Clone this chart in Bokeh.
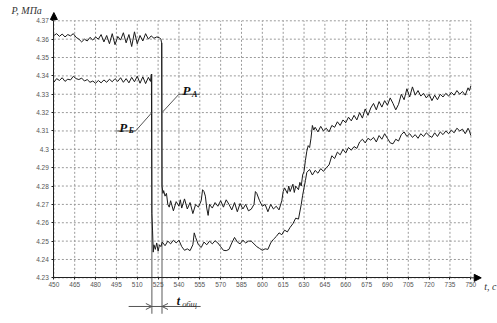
from bokeh.plotting import figure
from bokeh.models import (LinearAxis, FixedTicker, Arrow, NormalHead, OpenHead,
                          Label)
from bokeh.embed import file_html
from bokeh.resources import INLINE

# ---------------- data ----------------
xticks = [450, 465, 480, 495, 510, 525, 540, 555, 570, 585, 600, 615, 630, 645,
          660, 675, 690, 705, 720, 735, 750]
yticks = [4.23, 4.24, 4.25, 4.26, 4.27, 4.28, 4.29, 4.30, 4.31, 4.32, 4.33,
          4.34, 4.35, 4.36, 4.37]
ytick_labels = ["4.23", "4.24", "4.25", "4.26", "4.27", "4.28", "4.29", "4.3",
                "4.31", "4.32", "4.33", "4.34", "4.35", "4.36", "4.37"]

# P_A (upper before the drop)
t_a = [450, 452, 454, 456, 458, 460, 462, 464, 466, 468, 470, 472, 474, 476, 478,
       480, 482, 484, 486, 488, 490, 492, 494, 496, 498, 500, 502, 504, 506, 508,
       510, 512, 514, 516, 518, 520, 522, 524, 526, 527, 527.5, 527.8, 528.5,
       529, 530, 531, 532, 533, 534, 536, 538, 540, 541, 542, 544, 546, 548, 550,
       552, 554, 556, 557, 558, 559, 560, 561, 562, 564, 566, 568, 570, 572, 574,
       576, 578, 580, 582, 584, 586, 588, 590, 592, 594, 595, 596, 598, 600, 602,
       604, 606, 608, 610, 612, 614, 615, 616, 618, 619, 620, 622, 623, 624, 626,
       627, 628, 629, 630, 631, 632, 633, 634, 635, 636, 637, 638, 640, 642, 644,
       646, 648, 650, 652, 654, 656, 658, 660, 662, 664, 666, 668, 670, 672, 674,
       676, 678, 680, 682, 684, 686, 688, 690, 692, 694, 696, 698, 700, 702, 704,
       706, 708, 710, 712, 714, 716, 718, 720, 722, 724, 726, 728, 730, 732, 734,
       736, 738, 740, 742, 744, 746, 748, 749, 750]
p_a = [4.3620, 4.3630, 4.3615, 4.3628, 4.3612, 4.3625, 4.3618, 4.3630, 4.3610,
       4.3600, 4.3585, 4.3600, 4.3590, 4.3610, 4.3595, 4.3612, 4.3600, 4.3625,
       4.3585, 4.3620, 4.3575, 4.3630, 4.3570, 4.3615, 4.3595, 4.3635, 4.3580,
       4.3625, 4.3560, 4.3640, 4.3575, 4.3620, 4.3590, 4.3630, 4.3600, 4.3618,
       4.3605, 4.3612, 4.3608, 4.3600, 4.3580, 4.2800, 4.2760,
       4.2775, 4.2745, 4.2760, 4.2700, 4.2685, 4.2720, 4.2665, 4.2715, 4.2690,
       4.2725, 4.2680, 4.2730, 4.2675, 4.2710, 4.2650, 4.2700, 4.2685, 4.2720,
       4.2780, 4.2770, 4.2745, 4.2680, 4.2640, 4.2700, 4.2680, 4.2710, 4.2690,
       4.2720, 4.2685, 4.2725, 4.2700, 4.2670, 4.2710, 4.2660, 4.2705, 4.2675,
       4.2700, 4.2665, 4.2674, 4.2700, 4.2770, 4.2760, 4.2720, 4.2690, 4.2700,
       4.2660, 4.2700, 4.2675, 4.2690, 4.2670, 4.2720, 4.2770, 4.2790, 4.2760,
       4.2800, 4.2770, 4.2810, 4.2765, 4.2800, 4.2780, 4.2820, 4.2800, 4.2860,
       4.2880, 4.2940, 4.2990, 4.3020, 4.3010, 4.3060, 4.3130, 4.3105, 4.3120,
       4.3095, 4.3125, 4.3100, 4.3115, 4.3095, 4.3130, 4.3120, 4.3150, 4.3130,
       4.3160, 4.3145, 4.3175, 4.3155, 4.3185, 4.3160, 4.3200, 4.3170, 4.3220,
       4.3185, 4.3225, 4.3250, 4.3215, 4.3260, 4.3230, 4.3265, 4.3240, 4.3280,
       4.3250, 4.3215, 4.3245, 4.3300, 4.3270, 4.3330, 4.3285, 4.3340, 4.3295,
       4.3320, 4.3290, 4.3305, 4.3280, 4.3300, 4.3265, 4.3295, 4.3270, 4.3300,
       4.3285, 4.3305, 4.3290, 4.3310, 4.3295, 4.3320, 4.3300, 4.3315, 4.3295,
       4.3335, 4.3320, 4.3345]

# P_B (lower before the drop)
t_b = [450, 452, 454, 456, 458, 460, 462, 464, 466, 468, 470, 472, 474, 476, 478,
       480, 482, 484, 486, 488, 490, 492, 494, 496, 498, 500, 502, 504, 506, 508,
       510, 512, 514, 516, 518, 519.5, 520.2, 520.5, 521, 521.5, 522, 523, 524,
       525, 526, 527, 528, 530, 532, 534, 536, 538, 540, 542, 544, 546, 548, 550,
       551, 552, 554, 556, 558, 560, 562, 564, 566, 568, 570, 572, 574, 576, 578,
       580, 582, 584, 586, 588, 590, 592, 594, 596, 598, 600, 602, 604, 606, 608,
       610, 612, 614, 616, 618, 620, 622, 624, 626, 628, 629, 630, 631, 632, 634,
       636, 638, 640, 642, 644, 646, 648, 650, 652, 654, 656, 658, 660, 662, 664,
       666, 668, 670, 672, 674, 676, 678, 680, 682, 684, 686, 688, 690, 692, 694,
       696, 698, 700, 702, 704, 706, 708, 710, 712, 714, 716, 718, 720, 722, 724,
       726, 728, 730, 732, 734, 736, 738, 740, 742, 744, 746, 748, 749, 750]
p_b = [4.3365, 4.3385, 4.3375, 4.3390, 4.3370, 4.3382, 4.3378, 4.3398, 4.3385,
       4.3380, 4.3388, 4.3372, 4.3380, 4.3365, 4.3372, 4.3360, 4.3375, 4.3362,
       4.3378, 4.3365, 4.3382, 4.3368, 4.3385, 4.3370, 4.3390, 4.3365, 4.3385,
       4.3362, 4.3392, 4.3368, 4.3398, 4.3360, 4.3395, 4.3358, 4.3392, 4.3370,
       4.3410, 4.2650, 4.2560, 4.2440, 4.2480, 4.2455, 4.2490, 4.2445, 4.2480,
       4.2470, 4.2495, 4.2475, 4.2500, 4.2485, 4.2505, 4.2490, 4.2505, 4.2470,
       4.2450, 4.2458, 4.2448, 4.2480, 4.2545, 4.2520, 4.2480, 4.2465, 4.2495,
       4.2480, 4.2500, 4.2485, 4.2502, 4.2490, 4.2470, 4.2450, 4.2448, 4.2455,
       4.2490, 4.2520, 4.2495, 4.2485, 4.2505, 4.2490, 4.2500, 4.2500, 4.2485,
       4.2470, 4.2460, 4.2450, 4.2458, 4.2455, 4.2490, 4.2510, 4.2525, 4.2545,
       4.2535, 4.2560, 4.2550, 4.2575, 4.2595, 4.2625, 4.2620, 4.2700, 4.2750,
       4.2790, 4.2830, 4.2875, 4.2890, 4.2860, 4.2885, 4.2870, 4.2895, 4.2880,
       4.2900, 4.2915, 4.2965, 4.2950, 4.2985, 4.2970, 4.3000, 4.2980, 4.3010,
       4.2995, 4.3015, 4.3005, 4.3040, 4.3055, 4.3035, 4.3060, 4.3050, 4.3065,
       4.3040, 4.3075, 4.3055, 4.3085, 4.3060, 4.3035, 4.3030, 4.3055, 4.3045,
       4.3080, 4.3095, 4.3070, 4.3085, 4.3065, 4.3080, 4.3060, 4.3085, 4.3070,
       4.3090, 4.3075, 4.3065, 4.3090, 4.3070, 4.3095, 4.3080, 4.3100, 4.3085,
       4.3105, 4.3090, 4.3115, 4.3100, 4.3110, 4.3085, 4.3115, 4.3100, 4.3075]

# drop moments (t_B, t_A) and where the labels point
t_drop = [520.5, 527.8]
drop_top = [4.341, 4.358]

# ---------------- figure ----------------
p = figure(width=497, height=323, output_backend="svg", toolbar_location=None,
           x_range=(411.6, 769.2), y_range=(4.20513, 4.38106),
           x_axis_type=None, y_axis_type=None, min_border=0,
           outline_line_color=None, background_fill_color="white")

grid_col = "#9a9a9a"
p.segment(x0=xticks, x1=xticks, y0=[yticks[0]] * len(xticks), y1=[yticks[-1]] * len(xticks),
          line_color=grid_col, line_dash="2 2", line_width=1)
p.segment(x0=[xticks[0]] * len(yticks), x1=[xticks[-1]] * len(yticks), y0=yticks, y1=yticks,
          line_color=grid_col, line_dash="2 2", line_width=1)

lab_font = "Liberation Sans"
xaxis = LinearAxis(fixed_location=yticks[0], bounds=(xticks[0], xticks[-1]),
                   ticker=FixedTicker(ticks=xticks))
xaxis.major_label_overrides = {v: str(v) for v in xticks}
yaxis = LinearAxis(fixed_location=xticks[0], bounds=(yticks[0], yticks[-1]),
                   ticker=FixedTicker(ticks=yticks))
yaxis.major_label_overrides = {v: s for v, s in zip(yticks, ytick_labels)}
for ax in (xaxis, yaxis):
    ax.axis_line_color = "#222222"
    ax.axis_line_width = 1
    ax.major_tick_line_color = "#222222"
    ax.major_tick_out = 2
    ax.major_tick_in = 0
    ax.minor_tick_out = 0
    ax.minor_tick_in = 0
    ax.major_label_text_font = lab_font
    ax.major_label_text_font_size = "6.5px"
    ax.major_label_text_color = "#555555"
xaxis.major_label_standoff = 2
yaxis.major_label_standoff = 3
p.add_layout(xaxis, "below")
p.add_layout(yaxis, "left")

# axis arrows
p.add_layout(Arrow(x_start=xticks[-1], y_start=yticks[0], x_end=757.5, y_end=yticks[0],
                   line_color="#222222", line_width=1,
                   end=NormalHead(size=7, fill_color="black", line_color="black")))
p.add_layout(Arrow(x_start=xticks[0], y_start=yticks[-1], x_end=xticks[0], y_end=4.3745,
                   line_color="#222222", line_width=1,
                   end=NormalHead(size=7, fill_color="black", line_color="black")))

# marker lines at the drops (extend below the axis)
p.segment(x0=t_drop, x1=t_drop, y0=drop_top, y1=[4.2104, 4.2104],
          line_color="#808080", line_width=1.3)

# data
p.line(t_b, p_b, line_color="#1a1a1a", line_width=1)
p.line(t_a, p_a, line_color="#1a1a1a", line_width=1)

# leader lines
p.line([494.4, 508.8, t_drop[0]], [4.31, 4.31, 4.32], line_color="#555555", line_width=1)
p.line([t_drop[1], 540.0, 555.0], [4.32, 4.33, 4.33], line_color="#555555", line_width=1)

serif = "Liberation Serif"
def lab(x, y, txt, size, style="bold italic", color="#111111"):
    p.add_layout(Label(x=x, y=y, text=txt, text_font=serif, text_font_size=size,
                       text_font_style=style, text_color=color,
                       text_baseline="alphabetic", text_align="left"))

lab(497.0, 4.3118, "P", "13px")
lab(503.8, 4.3100, "Б", "8px")
lab(542.5, 4.3318, "P", "13px")
lab(549.4, 4.3300, "А", "8px")

# t_общ annotation
p.line([503.8, 555.6], [4.2144, 4.2144], line_color="#555555", line_width=1)
p.add_layout(Arrow(x_start=510.0, y_start=4.2144, x_end=t_drop[0], y_end=4.2144,
                   line_alpha=0, end=OpenHead(size=6, line_color="#555555", line_width=1)))
p.add_layout(Arrow(x_start=538.0, y_start=4.2144, x_end=t_drop[1], y_end=4.2144,
                   line_alpha=0, end=OpenHead(size=6, line_color="#555555", line_width=1)))
lab(538.5, 4.2176, "t", "12px")
lab(542.3, 4.2155, "общ", "8.5px", style="italic", color="#333333")

# axis titles
lab(419.5, 4.3755, "P, МПа", "10px", style="italic", color="#333333")
lab(759.6, 4.2253, "t, c", "10px", style="italic", color="#333333")

open("out.html", "w").write(file_html(p, INLINE))
